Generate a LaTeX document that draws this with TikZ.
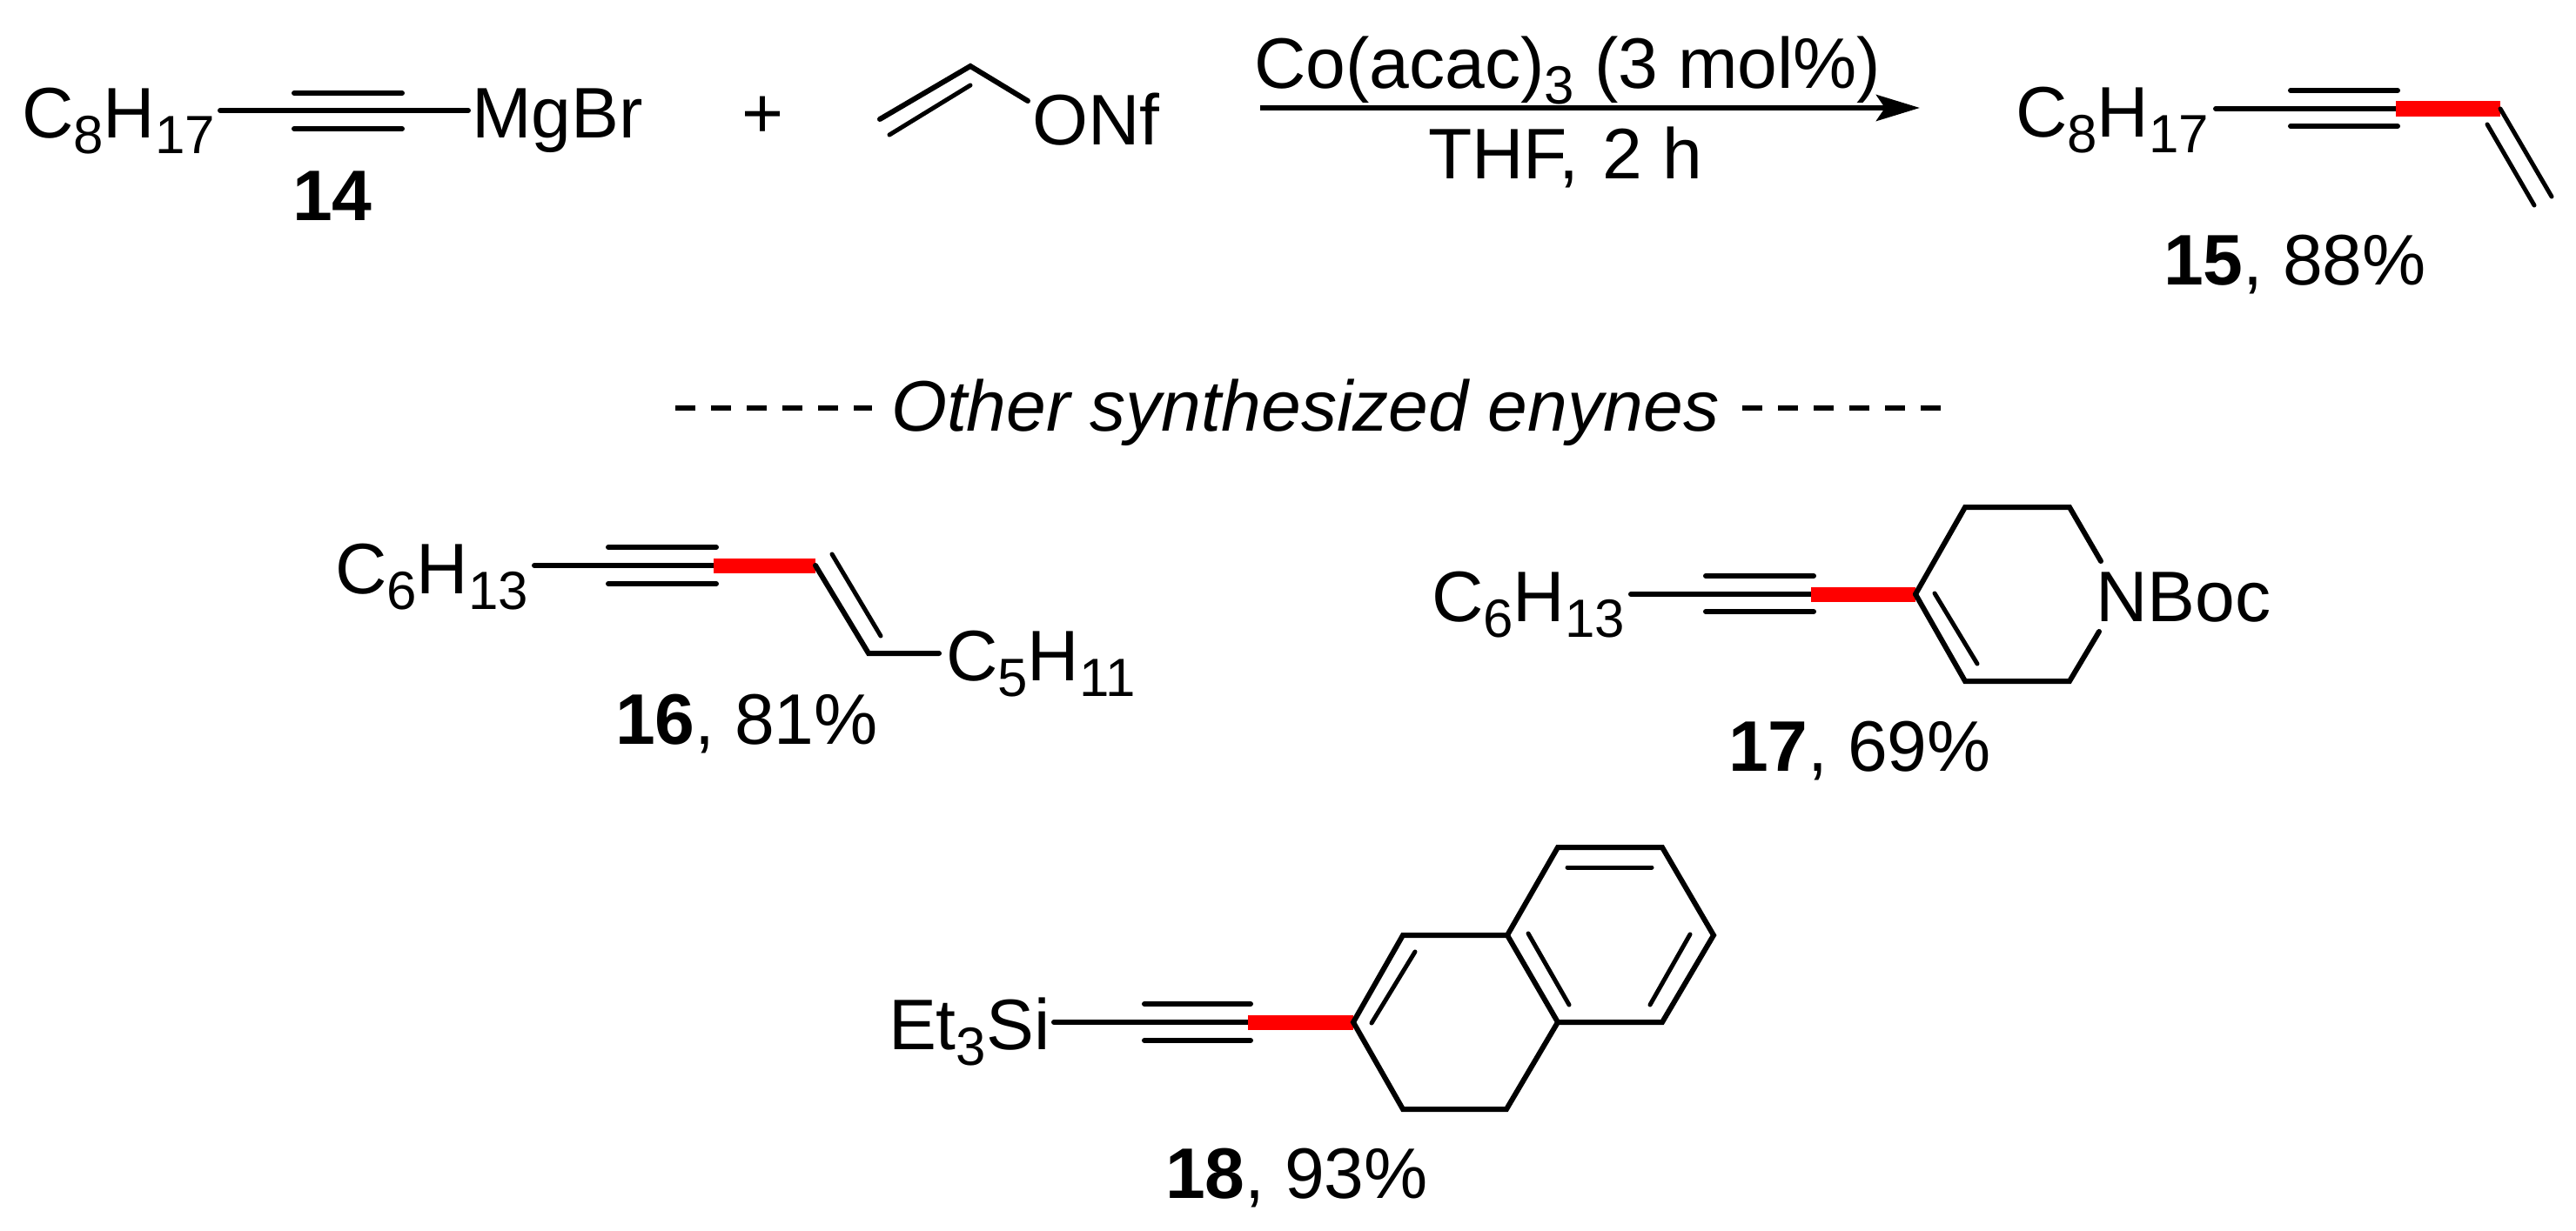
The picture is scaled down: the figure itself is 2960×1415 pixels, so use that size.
\documentclass[tikz,border=0pt]{standalone}
\usepackage{fontspec}
\setmainfont{Liberation Sans}
\usetikzlibrary{arrows.meta}
\newcommand{\sbs}[1]{\raisebox{-0.18cm}{\fontsize{17.6pt}{20pt}\selectfont #1}}
\tikzset{
  txt/.style={anchor=base west,inner sep=0pt,outer sep=0pt,font=\fontsize{23.4pt}{28pt}\selectfont},
  bond/.style={line width=0.06cm,line cap=round,line join=miter,black},
  inbond/.style={line width=0.05cm,line cap=round,black},
  redbond/.style={line width=0.17cm,red,line cap=butt},
  dashline/.style={line width=0.065cm,dash pattern=on 0.23cm off 0.18cm,black},
  rxn/.style={line width=0.065cm,black,-{Stealth[length=0.5cm,width=0.3cm,inset=0.1cm]}}
}
\begin{document}
\begin{tikzpicture}[x=0.01cm,y=-0.01cm]
\useasboundingbox (0,0) rectangle (2960,1415);
% --- 14
\node[txt] (t14a) at (25,158) {C\sbs{8}H\sbs{17}};
\node[txt] (t14b) at (542,158) {MgBr};
\node[txt] (l14) at (336,253) {\textbf{14}};
\coordinate (a1) at (253,127); \coordinate (a2) at (538,127);
\coordinate (a3) at (338,107); \coordinate (a4) at (462,107);
\coordinate (a5) at (338,148); \coordinate (a6) at (462,148);
\draw[bond] (a1)--(a2); \draw[bond] (a3)--(a4); \draw[bond] (a5)--(a6);
\node[txt] (plus) at (852,158) {+};
% --- vinyl ONf
\coordinate (v1) at (1011,137); \coordinate (v2) at (1115,76); \coordinate (v3) at (1181,116);
\coordinate (v4) at (1022,155); \coordinate (v5) at (1115,98);
\draw[bond] (v1) -- (v2) -- (v3);
\draw[inbond] (v4) -- (v5);
\node[txt] (onf) at (1186,166) {ONf};
% --- arrow
\coordinate (r1) at (1448,124); \coordinate (r2) at (2206,124);
\draw[rxn] (r1) -- (r2);
\node[txt] (co) at (1441,101) {Co(acac)\sbs{3} (3 mol\%)};
\node[txt] (thf) at (1641,205) {THF,\hspace{0.04cm} 2 h};
% --- 15
\node[txt] (t15) at (2316,157) {C\sbs{8}H\sbs{17}};
\node[txt] (l15) at (2486,327) {\textbf{15}, 88\%};
\coordinate (b1) at (2546,125); \coordinate (b2) at (2753,125);
\coordinate (b3) at (2632,104); \coordinate (b4) at (2755,104);
\coordinate (b5) at (2632,145); \coordinate (b6) at (2755,145);
\coordinate (b7) at (2873,125); \coordinate (b8) at (2932,226);
\coordinate (b9) at (2858,143); \coordinate (b10) at (2912,236);
\draw[bond] (b1)--(b2); \draw[bond] (b3)--(b4); \draw[bond] (b5)--(b6);
\draw[redbond] (b2)--(b7);
\draw[inbond] (b7)--(b8); \draw[inbond] (b9)--(b10);
% --- heading
\coordinate (d1) at (776,469); \coordinate (d2) at (1002,469);
\coordinate (d3) at (2002,469); \coordinate (d4) at (2232,469);
\draw[dashline] (d1)--(d2); \draw[dashline] (d3)--(d4);
\node[txt] (other) at (1024,495) {\itshape Other synthesized enynes};
% --- 16
\node[txt] (t16a) at (385,682) {C\sbs{6}H\sbs{13}};
\node[txt] (t16b) at (1087,782) {C\sbs{5}H\sbs{11}};
\node[txt] (l16) at (707,855) {\textbf{16}, 81\%};
\coordinate (c1) at (614,650); \coordinate (c2) at (820,650);
\coordinate (c3) at (699,629); \coordinate (c4) at (823,629);
\coordinate (c5) at (699,671); \coordinate (c6) at (823,671);
\coordinate (c7) at (937,650); \coordinate (c8) at (998,751); \coordinate (c9) at (1079,751);
\coordinate (c10) at (956,637); \coordinate (c11) at (1012,731);
\draw[bond] (c1)--(c2); \draw[bond] (c3)--(c4); \draw[bond] (c5)--(c6);
\draw[redbond] (c2)--(c7);
\draw[bond] (c7)--(c8)--(c9);
\draw[inbond] (c10)--(c11);
% --- 17
\node[txt] (t17a) at (1645,714) {C\sbs{6}H\sbs{13}};
\node[txt] (t17b) at (2408,714) {NBoc};
\node[txt] (l17) at (1986,886) {\textbf{17}, 69\%};
\coordinate (e1) at (1874,683); \coordinate (e2) at (2081,683);
\coordinate (e3) at (1960,662); \coordinate (e4) at (2084,662);
\coordinate (e5) at (1960,703); \coordinate (e6) at (2084,703);
\coordinate (e7) at (2201,683); \coordinate (e8) at (2258,583); \coordinate (e9) at (2378,583);
\coordinate (e10) at (2414,645); \coordinate (e11) at (2258,783); \coordinate (e12) at (2378,783);
\coordinate (e13) at (2412,726); \coordinate (e14) at (2223,682); \coordinate (e15) at (2272,763);
\draw[bond] (e1)--(e2); \draw[bond] (e3)--(e4); \draw[bond] (e5)--(e6);
\draw[redbond] (e2)--(e7);
\draw[bond] (e7)--(e8)--(e9)--(e10);
\draw[bond] (e7)--(e11)--(e12)--(e13);
\draw[inbond] (e14)--(e15);
% --- 18
\node[txt] (t18) at (1021,1206) {Et\sbs{3}Si};
\node[txt] (l18) at (1339,1377) {\textbf{18}, 93\%};
\coordinate (f1) at (1211,1175); \coordinate (f2) at (1434,1175);
\coordinate (f3) at (1315,1154); \coordinate (f4) at (1437,1154);
\coordinate (f5) at (1315,1196); \coordinate (f6) at (1437,1196);
\coordinate (gA) at (1555,1175); \coordinate (gB) at (1612,1075); \coordinate (gC) at (1732,1075);
\coordinate (gD) at (1790,1175); \coordinate (gE) at (1731,1275); \coordinate (gF) at (1612,1275);
\coordinate (gG) at (1790,974); \coordinate (gH) at (1910,974); \coordinate (gI) at (1969,1075);
\coordinate (gJ) at (1910,1175);
\coordinate (h1) at (1576,1176); \coordinate (h2) at (1626,1094);
\coordinate (h3) at (1756,1073); \coordinate (h4) at (1803,1155);
\coordinate (h5) at (1801,997); \coordinate (h6) at (1898,997);
\coordinate (h7) at (1942,1074); \coordinate (h8) at (1896,1155);
\draw[bond] (f1)--(f2); \draw[bond] (f3)--(f4); \draw[bond] (f5)--(f6);
\draw[redbond] (f2)--(gA);
\draw[bond] (gA)--(gB)--(gC)--(gD)--(gE)--(gF)--cycle;
\draw[bond] (gC)--(gG)--(gH)--(gI)--(gJ)--(gD);
\draw[inbond] (h1)--(h2); \draw[inbond] (h3)--(h4); \draw[inbond] (h5)--(h6); \draw[inbond] (h7)--(h8);
\end{tikzpicture}
\end{document}
